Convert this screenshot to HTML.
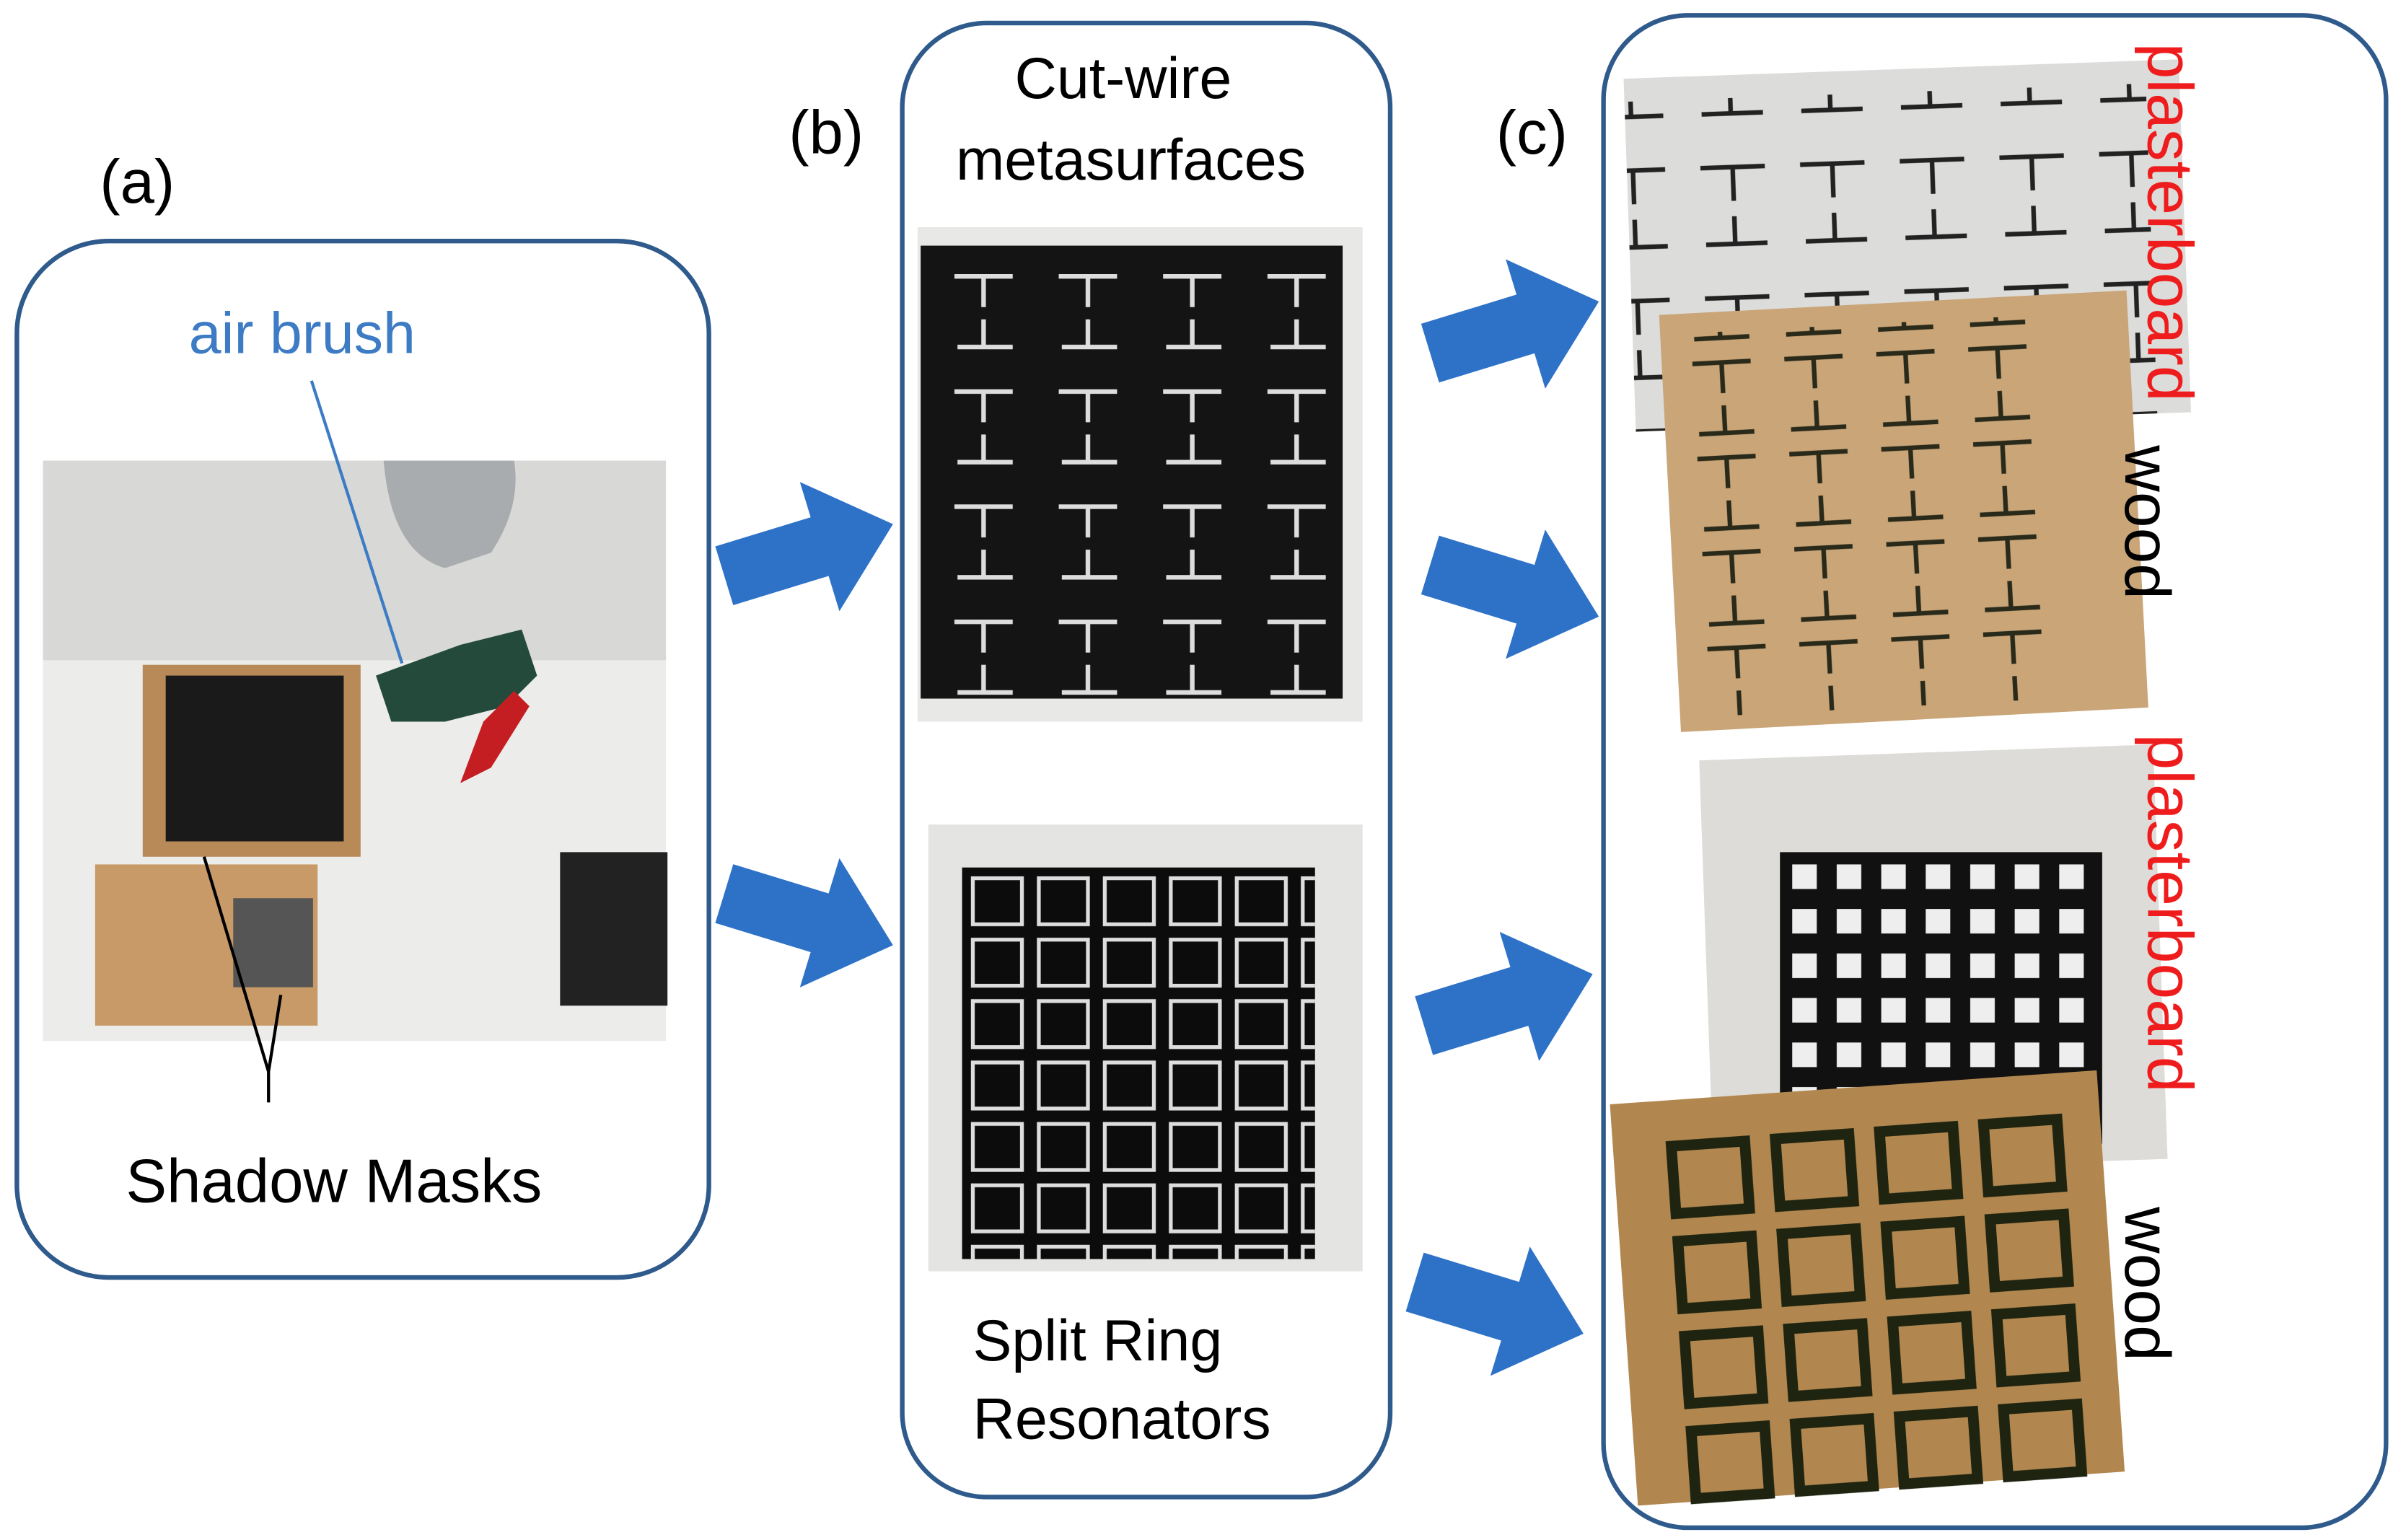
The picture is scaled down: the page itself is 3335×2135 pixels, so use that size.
<!DOCTYPE html>
<html><head><meta charset="utf-8"><style>
html,body{margin:0;padding:0;background:#fff;width:3335px;height:2135px;overflow:hidden}
svg{display:block}
text{font-family:"Liberation Sans","DejaVu Sans",sans-serif}
</style></head><body>
<svg width="3335" height="2135" viewBox="0 0 1568 1003" preserveAspectRatio="none" xmlns="http://www.w3.org/2000/svg">
<defs>
<pattern id="cw" x="610" y="160" width="68" height="75" patternUnits="userSpaceOnUse">
<path d="M12 20 H50 M31 20 V40 M31 48 V66 M14 66 H50" stroke="#ddd" stroke-width="3" fill="none"/>
</pattern>
<pattern id="srr" x="630" y="568" width="43" height="40" patternUnits="userSpaceOnUse">
<rect x="4" y="4" width="32" height="30" fill="none" stroke="#ddd" stroke-width="2.5"/>
</pattern>
<pattern id="cwd" x="1100" y="222" width="60" height="62" patternUnits="userSpaceOnUse">
<path d="M8 8 H46 M27 8 V28 M27 36 V54 M10 54 H46" stroke="#2a2a1a" stroke-width="3" fill="none"/>
</pattern>
<pattern id="cwp" x="1100" y="85" width="65" height="85" patternUnits="userSpaceOnUse">
<path d="M10 20 H52 M31 20 V42 M31 52 V70 M12 70 H52" stroke="#222" stroke-width="3" fill="none"/>
</pattern>
<pattern id="srp" x="1160" y="555" width="29" height="29" patternUnits="userSpaceOnUse">
<rect width="29" height="29" fill="#111"/><rect x="8" y="8" width="16" height="16" fill="#eee"/>
</pattern>
<pattern id="srw" x="1088" y="730" width="68" height="62" patternUnits="userSpaceOnUse">
<rect x="8" y="8" width="48" height="44" fill="none" stroke="#1e2410" stroke-width="7"/>
</pattern>
<path id="arr" d="M0 -20 H65 V-44 L115 0 L65 44 V20 H0 Z" fill="#2e72c8"/>
</defs>

<!-- (a) -->
<text x="65" y="132" font-size="40">(a)</text>
<rect x="11" y="157" width="451" height="675" rx="60" fill="none" stroke="#2f5a8c" stroke-width="3"/>
<text x="123" y="230" font-size="38" fill="#3d7cc4">air brush</text>
<rect x="28" y="300" width="406" height="378" fill="#ececea"/>
<rect x="28" y="300" width="406" height="130" fill="#d8d8d6"/>
<path d="M250 300 Q255 360 290 370 L320 360 Q340 330 335 300 Z" fill="#a8acae"/>
<path d="M245 440 L300 420 L340 410 L350 440 L330 460 L290 470 L255 470 Z" fill="#234a3a"/>
<path d="M300 510 L315 470 L335 450 L345 460 L320 500 Z" fill="#c41e22"/>
<rect x="365" y="555" width="70" height="100" fill="#222"/>
<line x1="203" y1="248" x2="262" y2="432" stroke="#3d7cc4" stroke-width="2"/>
<rect x="93" y="433" width="142" height="125" fill="#b88a58"/>
<rect x="108" y="440" width="116" height="108" fill="#1a1a1a"/>
<rect x="62" y="563" width="145" height="105" fill="#c89a68"/>
<rect x="152" y="585" width="52" height="58" fill="#555"/>
<path d="M175 698 L133 558 M175 698 L183 648 M175 698 V718" stroke="#000" stroke-width="2" fill="none"/>
<text x="82" y="783" font-size="40">Shadow Masks</text>

<use href="#arr" transform="translate(472,375) rotate(-17)"/>
<use href="#arr" transform="translate(472,582) rotate(17)"/>

<!-- (b) -->
<text x="514" y="100" font-size="40">(b)</text>
<rect x="588" y="15" width="318" height="960" rx="55" fill="none" stroke="#2f5a8c" stroke-width="3"/>
<text x="732" y="64" font-size="38" text-anchor="middle">Cut-wire</text>
<text x="737" y="117" font-size="38" text-anchor="middle">metasurfaces</text>
<rect x="598" y="148" width="290" height="322" fill="#e8e8e6"/>
<rect x="600" y="160" width="275" height="295" fill="#141414"/>
<rect x="600" y="160" width="275" height="295" fill="url(#cw)"/>
<rect x="605" y="537" width="283" height="291" fill="#e4e4e2"/>
<rect x="627" y="565" width="230" height="255" fill="#0c0c0c"/>
<rect x="627" y="565" width="230" height="255" fill="url(#srr)"/>
<text x="634" y="886" font-size="38">Split Ring</text>
<text x="634" y="937" font-size="38">Resonators</text>

<use href="#arr" transform="translate(932,230) rotate(-17)"/>
<use href="#arr" transform="translate(932,368) rotate(17)"/>
<use href="#arr" transform="translate(928,668) rotate(-17)"/>
<use href="#arr" transform="translate(922,835) rotate(17)"/>

<!-- (c) -->
<text x="975" y="100" font-size="40">(c)</text>
<rect x="1045" y="10" width="510" height="985" rx="55" fill="none" stroke="#2f5a8c" stroke-width="3"/>
<g transform="rotate(-2 1240 160)">
<rect x="1062" y="45" width="362" height="230" fill="#dcdcda"/>
<rect x="1062" y="60" width="340" height="215" fill="url(#cwp)"/>
</g>
<g transform="rotate(-3 1240 330)">
<rect x="1088" y="197" width="305" height="272" fill="#c9a578"/>
<rect x="1095" y="210" width="250" height="250" fill="url(#cwd)"/>
</g>
<rect x="1112" y="490" width="296" height="270" fill="#dedcd8" transform="rotate(-2 1260 625)"/>
<rect x="1160" y="555" width="210" height="190" fill="url(#srp)"/>
<g transform="rotate(-4 1215 840)">
<rect x="1058" y="708" width="318" height="262" fill="#b2874f"/>
<rect x="1088" y="730" width="272" height="248" fill="url(#srw)"/>
</g>
<text transform="translate(1400,28) rotate(90)" font-size="42" fill="#ee1c1c">plasterboard</text>
<text transform="translate(1385,290) rotate(90)" font-size="42">wood</text>
<text transform="translate(1400,478) rotate(90)" font-size="42" fill="#ee1c1c">plasterboard</text>
<text transform="translate(1385,786) rotate(90)" font-size="42">wood</text>
</svg>
</body></html>
